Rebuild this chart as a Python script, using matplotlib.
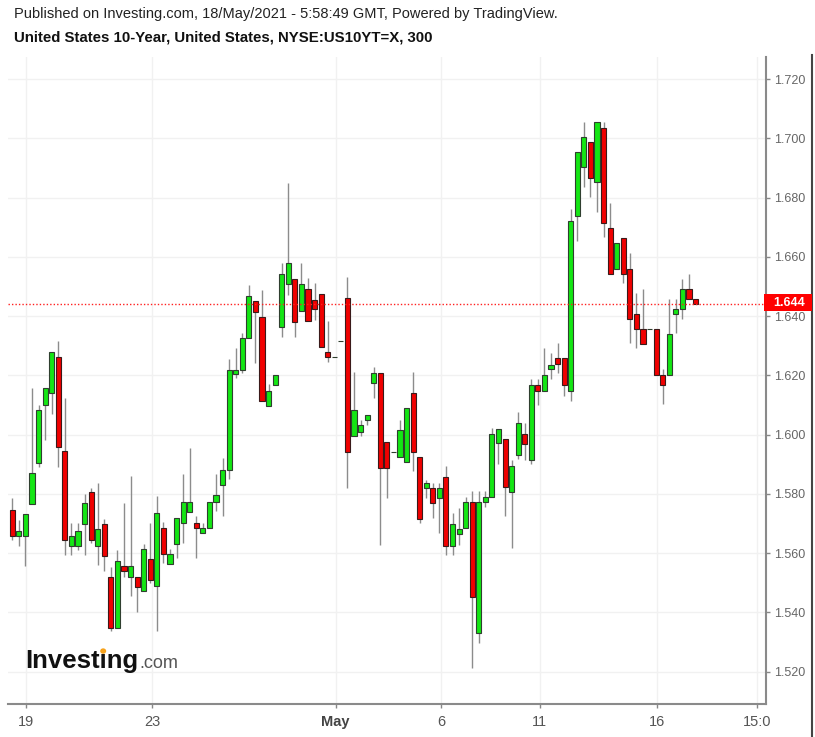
import matplotlib
matplotlib.use('Agg')
import matplotlib.pyplot as plt
from matplotlib.patches import Rectangle, Circle
from matplotlib.lines import Line2D

plt.rcParams['font.family'] = ['Liberation Sans', 'DejaVu Sans']

# ---- data (5-hour candles, US 10Y yield) ----
opens = [1.5746, 1.5659, 1.5659, 1.5766, 1.5906, 1.6100, 1.6140, 1.6261, 1.5945, 1.5626,
         1.5626, 1.5699, 1.5805, 1.5626, 1.5699, 1.5521, 1.5347, 1.5558, 1.5521, 1.5521,
         1.5471, 1.5580, 1.5491, 1.5686, 1.5563, 1.5630, 1.5703, 1.5740, 1.5703, 1.5667,
         1.5684, 1.5774, 1.5829, 1.5881, 1.6204, 1.6219, 1.6325, 1.6452, 1.6398, 1.6097,
         1.6168, 1.6365, 1.6508, 1.6524, 1.6419, 1.6491, 1.6455, 1.6474, 1.6278, 1.6262,
         1.6317, 1.6460, 1.5996, 1.6010, 1.6050, 1.6174, 1.6210, 1.5977, 1.5943, 1.5926,
         1.5909, 1.6140, 1.5926, 1.5819, 1.5819, 1.5785, 1.5858, 1.5625, 1.5664, 1.5684,
         1.5774, 1.5330, 1.5774, 1.5791, 1.5971, 1.5985, 1.5808, 1.5931, 1.6002, 1.5915,
         1.6168, 1.6148, 1.6221, 1.6258, 1.6258, 1.6148, 1.6739, 1.6902, 1.6987, 1.6852,
         1.7037, 1.6699, 1.6558, 1.6665, 1.6558, 1.6406, 1.6356, 1.6356, 1.6356, 1.6202,
         1.6202, 1.6406, 1.6423, 1.6491, 1.6457]
highs = [1.5785, 1.5712, 1.5731, 1.6157, 1.6101, 1.6157, 1.6278, 1.6317, 1.6123, 1.5701,
         1.5701, 1.5800, 1.5819, 1.5838, 1.5716, 1.5555, 1.5611, 1.5771, 1.5861, 1.5521,
         1.5631, 1.5703, 1.5793, 1.5707, 1.5613, 1.5720, 1.5868, 1.5954, 1.5724, 1.5703,
         1.5774, 1.5868, 1.5920, 1.6254, 1.6292, 1.6342, 1.6505, 1.6452, 1.6488, 1.6171,
         1.6203, 1.6578, 1.6848, 1.6524, 1.6581, 1.6528, 1.6511, 1.6474, 1.6385, 1.6262,
         1.6317, 1.6531, 1.6213, 1.6050, 1.6067, 1.6230, 1.6210, 1.5977, 1.5943, 1.6050,
         1.6089, 1.6213, 1.5926, 1.5847, 1.5836, 1.5836, 1.5895, 1.5735, 1.5752, 1.5791,
         1.5811, 1.5811, 1.5811, 1.6022, 1.6019, 1.5985, 1.5913, 1.6078, 1.6041, 1.6187,
         1.6187, 1.6292, 1.6275, 1.6308, 1.6258, 1.6761, 1.6955, 1.7056, 1.6987, 1.7054,
         1.7056, 1.6783, 1.6646, 1.6665, 1.6614, 1.6477, 1.6491, 1.6356, 1.6356, 1.6221,
         1.6457, 1.6457, 1.6525, 1.6542, 1.6457]
lows = [1.5645, 1.5625, 1.5557, 1.5766, 1.5892, 1.5982, 1.6069, 1.5892, 1.5594, 1.5594,
        1.5610, 1.5594, 1.5635, 1.5561, 1.5541, 1.5336, 1.5347, 1.5521, 1.5454, 1.5400,
        1.5471, 1.5499, 1.5336, 1.5566, 1.5563, 1.5583, 1.5634, 1.5740, 1.5583, 1.5667,
        1.5684, 1.5744, 1.5726, 1.5850, 1.6190, 1.6207, 1.6325, 1.6243, 1.6114, 1.6097,
        1.6168, 1.6331, 1.6472, 1.6331, 1.6419, 1.6384, 1.6387, 1.6295, 1.6247, 1.6262,
        1.6317, 1.5819, 1.5996, 1.5996, 1.6033, 1.6123, 1.5628, 1.5785, 1.5943, 1.5926,
        1.5909, 1.5876, 1.5701, 1.5785, 1.5718, 1.5667, 1.5594, 1.5594, 1.5628, 1.5684,
        1.5212, 1.5298, 1.5755, 1.5791, 1.5901, 1.5724, 1.5617, 1.5917, 1.5915, 1.5900,
        1.6100, 1.6148, 1.6187, 1.6207, 1.6131, 1.6115, 1.6655, 1.6835, 1.6801, 1.6753,
        1.6666, 1.6541, 1.6558, 1.6511, 1.6308, 1.6292, 1.6305, 1.6356, 1.6202, 1.6104,
        1.6202, 1.6342, 1.6389, 1.6457, 1.6440]
closes = [1.5659, 1.5676, 1.5731, 1.5872, 1.6084, 1.6157, 1.6278, 1.5960, 1.5643, 1.5659,
          1.5676, 1.5771, 1.5643, 1.5681, 1.5591, 1.5347, 1.5575, 1.5541, 1.5558, 1.5487,
          1.5613, 1.5510, 1.5737, 1.5596, 1.5596, 1.5720, 1.5774, 1.5774, 1.5684, 1.5684,
          1.5774, 1.5796, 1.5881, 1.6219, 1.6219, 1.6325, 1.6469, 1.6413, 1.6114, 1.6149,
          1.6203, 1.6541, 1.6578, 1.6379, 1.6508, 1.6384, 1.6423, 1.6295, 1.6261, 1.6262,
          1.6317, 1.5943, 1.6084, 1.6033, 1.6067, 1.6210, 1.5887, 1.5887, 1.5943, 1.6016,
          1.6089, 1.5943, 1.5716, 1.5836, 1.5768, 1.5819, 1.5625, 1.5699, 1.5681, 1.5774,
          1.5451, 1.5774, 1.5791, 1.6002, 1.6019, 1.5825, 1.5896, 1.6041, 1.5969, 1.6168,
          1.6148, 1.6202, 1.6235, 1.6238, 1.6168, 1.6722, 1.6955, 1.7004, 1.6867, 1.7054,
          1.6713, 1.6541, 1.6646, 1.6541, 1.6389, 1.6356, 1.6305, 1.6356, 1.6202, 1.6168,
          1.6339, 1.6423, 1.6491, 1.6457, 1.6440]
date_tick_pos = [2.13, 21.3, 49.2, 65.25, 80.3, 98.2, 113.3]
date_tick_labels = ['19', '23', 'May', '6', '11', '16', '15:0']
price_ticks = [1.520, 1.540, 1.560, 1.580, 1.600, 1.620, 1.640, 1.660, 1.680, 1.700, 1.720]
last_price = 1.644

W, H = 815, 737
fig = plt.figure(figsize=(W / 100, H / 100), dpi=100)
fig.patch.set_facecolor('white')

ax_left, ax_right, ax_top, ax_bot = 8.3, 765.5, 57, 704
ax = fig.add_axes([ax_left / W, (H - ax_bot) / H, (ax_right - ax_left) / W, (ax_bot - ax_top) / H])

up_col, dn_col = '#14e614', '#f00000'
for i, (o, h, l, c) in enumerate(zip(opens, highs, lows, closes)):
    ax.vlines(i, l, h, color='#8c8c8c', lw=1.0, zorder=2)
    col = up_col if c >= o else dn_col
    ax.bar(i, abs(c - o), bottom=min(o, c), width=0.78, color=col,
           edgecolor='#2f3f2f' if c >= o else '#3a1a1a', lw=0.8, zorder=3)

ax.axhline(last_price, color='#ff2020', lw=1.0, ls=(0, (1, 1.5)), zorder=4)

ax.set_xlim(-0.61, 114.64)
ax.set_ylim(1.5091, 1.7275)

ax.set_xticks(date_tick_pos)
ax.set_xticklabels(date_tick_labels)
for lab in ax.get_xticklabels():
    lab.set_family(['Liberation Sans Narrow', 'Liberation Sans'])
    lab.set_fontsize(10.5)
    lab.set_color('#555555')
    if lab.get_text() == 'May':
        lab.set_fontweight('bold')
        lab.set_color('#444444')

ax.yaxis.tick_right()
ax.set_yticks(price_ticks)
ax.set_yticklabels(['%.3f' % v for v in price_ticks])
ax.tick_params(axis='y', length=3, width=1, color='#888888', labelcolor='#666666',
               labelsize=9, pad=3)
ax.tick_params(axis='x', length=3, width=1, color='#888888', pad=5)

ax.grid(True, color='#f1f1f1', lw=1)
ax.set_axisbelow(True)
for s in ['left', 'top']:
    ax.spines[s].set_visible(False)
for s in ['right', 'bottom']:
    ax.spines[s].set_color('#8a8a8a')
    ax.spines[s].set_linewidth(1.5)

# outer right frame line
fig.add_artist(Line2D([811.5 / W, 811.5 / W], [0, 1 - 55 / H], color='#444444', lw=1.5))

# last price label
fig.add_artist(Rectangle((764 / W, 1 - 311 / H), 48 / W, 17 / H, transform=fig.transFigure,
                         facecolor='#ff0000', edgecolor='none', zorder=5))
fig.text(773 / W, 1 - 302.5 / H, '%.3f' % last_price, color='white', fontsize=9,
         fontweight='bold', va='center', ha='left', zorder=6)

# header
fig.text(14 / W, 1 - 14 / H, 'Published on Investing.com, 18/May/2021 - 5:58:49 GMT, Powered by TradingView.',
         fontsize=10.5, color='#222222', va='center', ha='left')
fig.text(14 / W, 1 - 38 / H, 'United States 10-Year, United States, NYSE:US10YT=X, 300',
         fontsize=10.8, fontweight='bold', color='#111111', va='center', ha='left')

# watermark
wm_size = 18.5
t1 = fig.text(25 / W, 1 - 668 / H, 'Investing', fontsize=wm_size, fontweight='bold', color='#111111',
              va='baseline', ha='left', zorder=1)
tpre = fig.text(25 / W, 1 - 668 / H, 'Invest', fontsize=wm_size, fontweight='bold', color='none',
                va='baseline', ha='left', zorder=0)
ti = fig.text(25 / W, 1 - 668 / H, 'Investi', fontsize=wm_size, fontweight='bold', color='none',
              va='baseline', ha='left', zorder=0)
fig.canvas.draw()
bb = t1.get_window_extent()
x_i0 = tpre.get_window_extent().x1
x_i1 = ti.get_window_extent().x1
tpre.remove()
ti.remove()
fig.text(bb.x1 / W + 1 / W, 1 - 668 / H, '.com', fontsize=13, color='#555555',
         va='baseline', ha='left', zorder=1)
em = wm_size * 100 / 72
fig.add_artist(Circle(((x_i0 + x_i1) / 2 / W, (H - 668 + 0.66 * em) / H), 3.0 / W,
                      transform=fig.transFigure, facecolor='#f7a21b', edgecolor='none', zorder=2))

fig.savefig('out.png', dpi=100, facecolor='white')
